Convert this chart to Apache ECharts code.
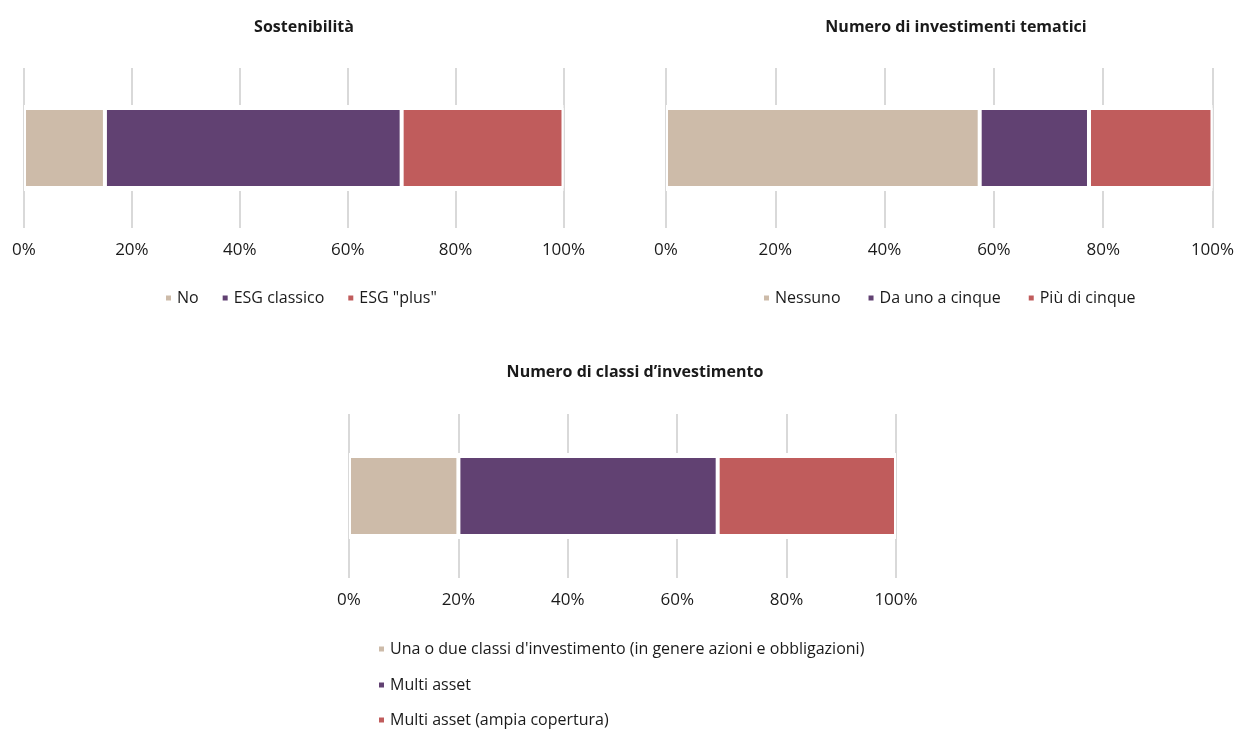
<!DOCTYPE html>
<html>
<head>
<meta charset="utf-8">
<script src="https://cdn.jsdelivr.net/npm/echarts@6/dist/echarts.min.js"></script>
<style>
  html, body { margin: 0; padding: 0; background: #ffffff; }
  #chart { width: 1238px; height: 731px; }
</style>
</head>
<body>
<div id="chart"></div>
<script>
// Shares (%) for each of the three stacked 100% bars
const titles = ['Sostenibilità', 'Numero di investimenti tematici', 'Numero di classi d\u2019investimento'];

const seriesNames1 = ['No', 'ESG classico', 'ESG "plus"'];
const values1 = [15, 55, 30];

const seriesNames2 = ['Nessuno', 'Da uno a cinque', 'Più di cinque'];
const values2 = [57.4, 20, 22.6];

const seriesNames3 = [
  "Una o due classi d'investimento (in genere azioni e obbligazioni)",
  'Multi asset',
  'Multi asset (ampia copertura)'
];
const values3 = [20, 47.4, 32.6];

const axisMin = 0;
const axisMax = 100;
const axisStep = 20;
const category = ['Totale'];

const colors = ['#cdbba9', '#614172', '#c05c5c'];
const FONT = '"Open Sans", "Noto Sans", sans-serif';
const TEXT = '#1a1a1a';
const GRID_LINE = '#d9d9d9';

// Panel layout in pixels
const panels = [
  { left: 24,  width: 539.5, top: 68,  height: 160, names: seriesNames1, values: values1,
    titleX: 299, titleY: 14, legend: { left: 164, top: 288, orient: 'horizontal', gap: 22 } },
  { left: 666, width: 546.5, top: 68,  height: 160, names: seriesNames2, values: values2,
    titleX: 951, titleY: 14, legend: { left: 762, top: 288, orient: 'horizontal', gap: 26 } },
  { left: 349, width: 547,   top: 414, height: 164, names: seriesNames3, values: values3,
    titleX: 630, titleY: 359, legend: { left: 377, tops: [639, 675, 710], orient: 'vertical' } }
];

const option = {
  backgroundColor: '#ffffff',
  animation: false,
  title: [],
  legend: [],
  grid: [],
  xAxis: [],
  yAxis: [],
  series: []
};

const legendText = { fontFamily: FONT, fontSize: 16, color: TEXT, lineHeight: 20 };

panels.forEach((p, i) => {
  option.title.push({
    text: titles[i],
    left: p.titleX,
    top: p.titleY,
    textAlign: 'center',
    textStyle: { fontFamily: FONT, fontSize: 16, fontWeight: 'bold', color: TEXT }
  });

  option.grid.push({ left: p.left, width: p.width, top: p.top, height: p.height, containLabel: false });

  option.xAxis.push({
    type: 'value', gridIndex: i, min: axisMin, max: axisMax, interval: axisStep,
    axisLine: { show: false }, axisTick: { show: false },
    splitLine: { show: true, lineStyle: { color: GRID_LINE, width: 2 } },
    axisLabel: { formatter: '{value}%', fontFamily: FONT, fontSize: 17, color: TEXT, margin: 14 }
  });

  // Base axis for the coloured bars
  option.yAxis.push({
    type: 'category', gridIndex: i, data: category, show: false
  });
  // Separate base axis for the white band that interrupts the grid lines
  option.yAxis.push({
    type: 'category', gridIndex: i, data: category, show: false, position: 'right'
  });

  option.series.push({
    type: 'bar', name: '__band' + i, xAxisIndex: i, yAxisIndex: i * 2 + 1,
    data: [axisMax], barWidth: 86, silent: true,
    itemStyle: { color: '#ffffff' }, z: 1
  });

  p.names.forEach((name, k) => {
    option.series.push({
      type: 'bar', name: name, stack: 'total' + i,
      xAxisIndex: i, yAxisIndex: i * 2,
      data: [p.values[k]], barWidth: 80,
      itemStyle: { color: colors[k], borderColor: '#ffffff', borderWidth: 2 },
      z: 2
    });
  });

  if (p.legend.orient === 'horizontal') {
    option.legend.push({
      data: p.names.map(n => ({ name: n, icon: 'rect' })),
      left: p.legend.left,
      top: p.legend.top,
      orient: 'horizontal',
      padding: 0,
      itemWidth: 7,
      itemHeight: 7,
      itemGap: p.legend.gap,
      selectedMode: false,
      textStyle: legendText
    });
  } else {
    // one legend row per entry, stacked vertically
    p.names.forEach((name, k) => {
      option.legend.push({
        data: [{ name: name, icon: 'rect' }],
        left: p.legend.left,
        top: p.legend.tops[k],
        orient: 'vertical',
        padding: 0,
        itemWidth: 7,
        itemHeight: 7,
        selectedMode: false,
        textStyle: legendText
      });
    });
  }
});

option.color = colors;

const chart = echarts.init(document.getElementById('chart'), null, { renderer: 'canvas' });
chart.setOption(option);
</script>
</body>
</html>
